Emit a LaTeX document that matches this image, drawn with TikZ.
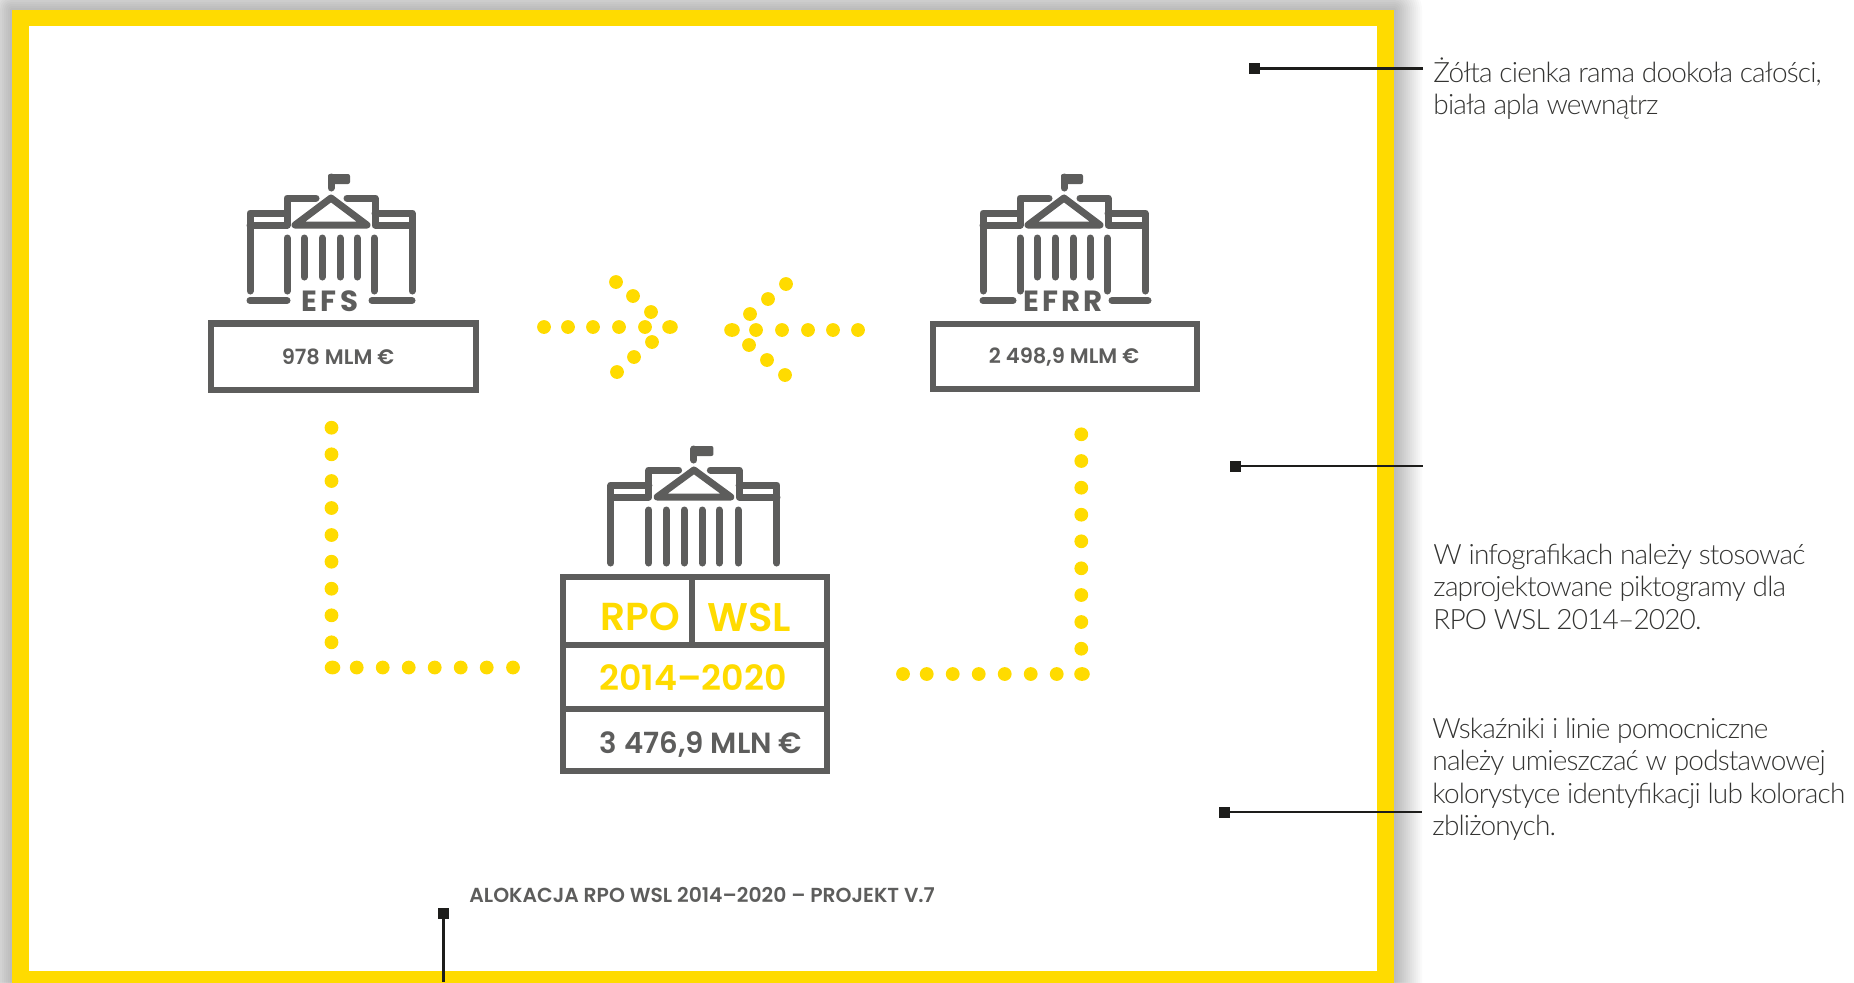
\documentclass[tikz,border=0pt]{standalone}
\usepackage{fontspec}
\setmainfont[LetterSpace=-3]{Lato Light}
\newfontfamily\hd{Poppins SemiBold}
\newfontfamily\hdb{Poppins Bold}
\usetikzlibrary{calc,shapes.geometric}
\definecolor{ramka}{HTML}{FFDB00}
\definecolor{szary}{HTML}{5D5D5C}
\definecolor{czarny}{HTML}{1D1D1B}
\tikzset{x=0.5pt,y=-0.5pt,
 bud/.style={draw=szary,line width=3.5pt,line cap=round,line join=round},
 dotc/.style={circle,fill=ramka,inner sep=0pt,minimum size=6.9pt},
 dotw/.style={ellipse,fill=ramka,inner sep=0pt,minimum width=7.8pt,minimum height=6.9pt},
 tbl/.style={draw=szary,line width=3.2pt},
 lead/.style={draw=czarny,line width=1.2pt},
 mk/.style={fill=czarny,inner sep=0pt,minimum size=5.5pt,rectangle},
 note/.style={anchor=north west,align=left,text=czarny!90,font=\fontsize{14pt}{16.1pt}\selectfont,inner sep=0pt}}
\newcommand{\budynek}[3]{%
 \begin{scope}[shift={(#1,#2)},xscale=#3]
 \draw[bud] (331,188)--(331,177);
 \fill[szary,rounded corners=1pt] (328,174) rectangle (350,184);
 \draw[bud] (250,291)--(250,213)--(287,213);
 \draw[bud] (250,225)--(287,225)--(287,198)--(316,198);
 \draw[bud] (412,291)--(412,213)--(375,213);
 \draw[bud] (412,225)--(375,225)--(375,198)--(347,198);
 \draw[bud] (331,198)--(295,225)--(367,225)--cycle;
 \foreach \cx in {287,374}{\draw[bud] (\cx,238)--(\cx,291);}
 \end{scope}}
\begin{document}
\begin{tikzpicture}
\useasboundingbox (0,0) rectangle (1854,982);
\fill[white] (0,0) rectangle (1854,982);
% frame shadow
\foreach \s in {28,26,...,2}{\fill[black,opacity=0.02,rounded corners=\s*0.5pt] (12-\s,10-\s) rectangle (1394+\s,1020);}
\fill[ramka] (12,10) rectangle (1394,990);
\fill[white] (29,26) rectangle (1377,971);
% buildings
\budynek{0}{0}{1}
\foreach \cx in {304,322,340,357}{\draw[bud] (\cx,238)--(\cx,277);}
\draw[bud] (250,300.5)--(287,300.5) (372,300.5)--(412,300.5);
\node[text=szary,inner sep=0pt,font=\hdb\fontsize{14.6pt}{15pt}\selectfont] (efs) at (330,301.5) {E\kern1.7pt F\kern1.7pt S};
\budynek{733}{0}{1}
\foreach \cx in {304,322,340,357}{\draw[bud] (\cx+733,238)--(\cx+733,277);}
\draw[bud] (983,300.5)--(1013,300.5) (1112,300.5)--(1148,300.5);
\node[text=szary,inner sep=0pt,font=\hdb\fontsize{14.6pt}{15pt}\selectfont] (efrr) at (1063,301.5) {E\kern1.4pt F\kern1.4pt R\kern1.4pt R};
\budynek{354.8}{272}{1.0247}
\foreach \cx in {666,684,702,719}{\draw[bud] (\cx,510)--(\cx,563);}
% boxes
\draw[tbl] (211,323.5) rectangle (476,390);
\node[text=szary,inner sep=0pt,font=\hd\fontsize{10.5pt}{10.5pt}\selectfont] (v1) at (338,357) {978 MLM €};
\draw[tbl] (933,324) rectangle (1197,389);
\node[text=szary,inner sep=0pt,font=\hd\fontsize{10.5pt}{10.5pt}\selectfont] (v2) at (1064,357) {2 498,9 MLM €};
\draw[tbl] (563,577) rectangle (827,771);
\draw[tbl] (563,645)--(827,645) (563,709)--(827,709) (692,577)--(692,645);
\node[text=ramka,inner sep=0pt,font=\hd\fontsize{19.5pt}{19.5pt}\selectfont] (t1) at (640,617) {RPO};
\node[text=ramka,inner sep=0pt,font=\hd\fontsize{20pt}{20pt}\selectfont] (t2) at (749,617) {WSL};
\node[text=ramka,inner sep=0pt,font=\hd\fontsize{17.4pt}{17.4pt}\selectfont] (t3) at (693,678) {2014–2020};
\node[text=szary,inner sep=0pt,font=\hd\fontsize{14.6pt}{14.6pt}\selectfont] (t4) at (701,744.5) {3 476,9 MLN €};
\node[text=szary,inner sep=0pt,font=\hd\fontsize{10.15pt}{10pt}\selectfont,anchor=west] (cap) at (469,895) {ALOKACJA RPO WSL 2014–2020 – PROJEKT V.7};
% arrows
\foreach \p in {544,568,593,619,645}{\node[dotc] at (\p,327) {};}
\node[dotw] at (670,327) {};
\foreach \a/\b in {616/282,633/296,651/312,652/342,634/357,617/372}{\node[dotc] at (\a,\b) {};}
\node[dotw] at (732,330) {};
\foreach \p in {756,782,808,833,858}{\node[dotc] at (\p,330) {};}
\foreach \a/\b in {786/284,768/299,750/314,749/345,767/360,785/375}{\node[dotc] at (\a,\b) {};}
% dotted routes
\foreach \p in {427.7,454.3,481,508,535,561.7,588.7,615.3,642.3}{\node[dotc] at (331.5,\p) {};}
\node[dotw] at (332.5,667.5) {};
\foreach \p in {356.7,382.7,408.7,434.7,460.7,486.7,513}{\node[dotc] at (\p,667.5) {};}
\foreach \p in {434.3,461,487.7,514.7,541.3,568.3,595,622,648.7}{\node[dotc] at (1081.3,\p) {};}
\node[dotw] at (1082,674) {};
\foreach \p in {903,926.7,952.7,978.7,1004.7,1030.7,1056.7}{\node[dotc] at (\p,674) {};}
% leaders
\node[mk] (m1) at (1254,68.5) {};
\coordinate (e1) at (1423,68.5);
\draw[lead] (m1)--(e1);
\node[mk] (m2) at (1235,466) {};
\coordinate (e2) at (1423,466);
\draw[lead] (m2)--(e2);
\node[mk] (m3) at (1224,812) {};
\coordinate (e3) at (1422,812);
\draw[lead] (m3)--(e3);
\node[mk] (m4) at (443.5,913) {};
\coordinate (e4) at (443.5,982);
\draw[lead] (m4)--(e4);
\node[note] (n1) at (1433,57) {Żółta cienka rama dookoła całości,\\biała apla wewnątrz};
\node[note] (n2) at (1433,544) {W infografikach należy stosować\\zaprojektowane piktogramy dla\\RPO WSL 2014–2020.};
\node[note] (n3) at (1432,718) {Wskaźniki i linie pomocniczne\\należy umieszczać w podstawowej\\kolorystyce identyfikacji lub kolorach\\zbliżonych.};
\end{tikzpicture}
\end{document}
